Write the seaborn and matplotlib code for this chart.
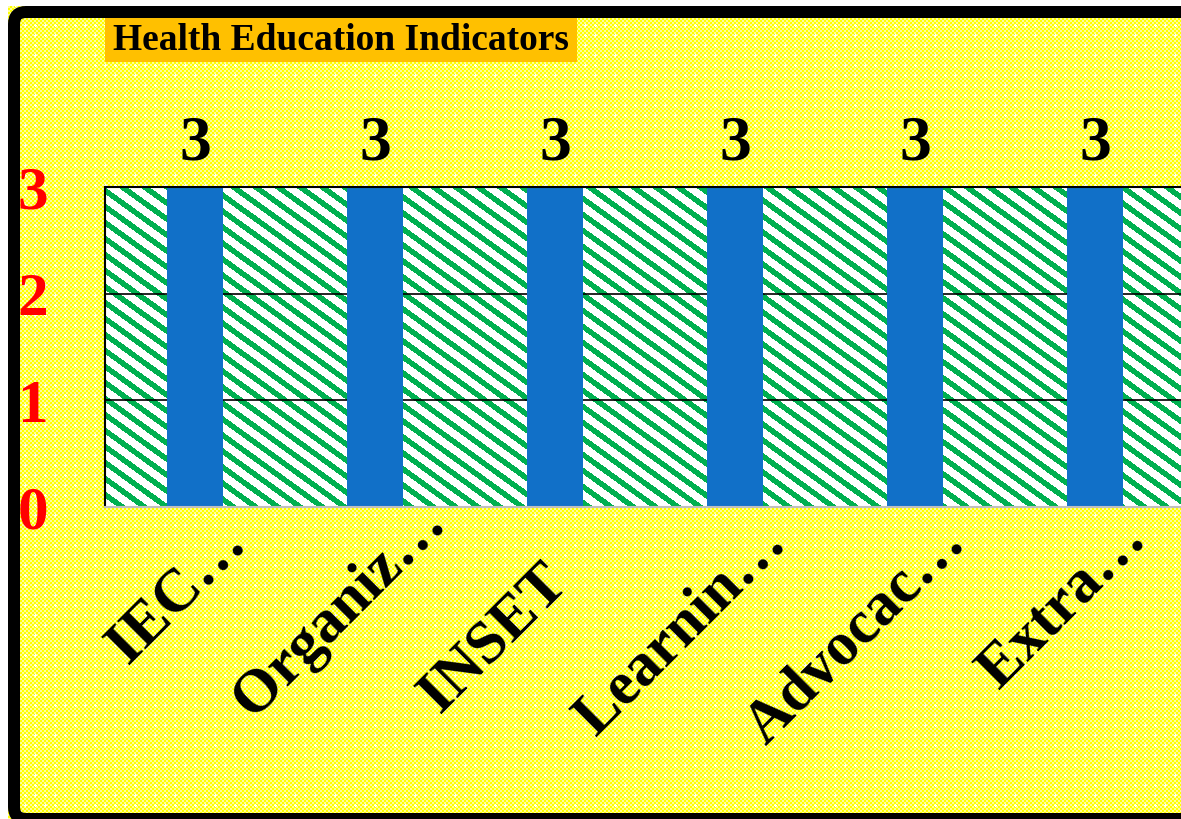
import numpy as np
import matplotlib
matplotlib.use('Agg')
import matplotlib.pyplot as plt
import seaborn as sns
from matplotlib.patches import Rectangle, FancyBboxPatch
from matplotlib.transforms import ScaledTranslation

categories = ['IEC…', 'Organiz…', 'INSET', 'Learnin…', 'Advocac…', 'Extra…']
values = [3, 3, 3, 3, 3, 3]
y_ticks = [0, 1, 2, 3]
title = 'Health Education Indicators'

sns.set_theme(style='white')
plt.rcParams['font.family'] = ['Liberation Serif', 'DejaVu Serif']
plt.rcParams['font.weight'] = 'bold'

W, H = 1181, 819
fig = plt.figure(figsize=(W / 100, H / 100), dpi=100)

# yellow dotted backdrop
yy, xx = np.mgrid[0:H, 0:W]
bg = np.zeros((H, W, 3))
bg[:] = [1, 1, 0]
checker = ((xx // 2 + yy // 2) % 2).astype(bool)
bg[checker] = [1, 1, 0.6]
cross = ((xx % 10 == 5) & (np.abs(yy % 10 - 5) <= 1)) | ((yy % 10 == 5) & (np.abs(xx % 10 - 5) <= 1))
bg[cross] = [1, 1, 1]
bg[:, :8] = 1
bg[:6, :] = 1
fig.figimage(bg, 0, 0, zorder=-5)

ax = fig.add_axes([105 / W, 1 - 507 / H, 1080 / W, 320 / H])

# green diagonal stripes in the plot area
sy, sx = np.mgrid[0:320, 0:1080]
stripes = ((sy - 0.72 * sx) % 16) < 6.8
tex = np.ones((320, 1080, 3))
tex[stripes] = [0, 176 / 255, 80 / 255]
ax.imshow(tex, extent=(0, 1, 0, 1), transform=ax.transAxes, aspect='auto',
          interpolation='nearest', zorder=0.2)

sns.barplot(x=categories, y=values, color='#1170C8', saturation=1, width=0.31, ax=ax,
            linewidth=0, zorder=1)
ax.set_xlim(-0.5, 5.5)
ax.set_ylim(0, 3)
ax.set_xlabel('')
ax.set_ylabel('')

ax.set_axisbelow(True)
ax.yaxis.grid(True, color='black', linewidth=1.2)
ax.xaxis.grid(False)
for side in ['left', 'top']:
    ax.spines[side].set_color('black')
    ax.spines[side].set_linewidth(1.5)
ax.spines['bottom'].set_color('#BFBFBF')
ax.spines['bottom'].set_linewidth(1.5)
ax.spines['right'].set_visible(False)

ax.set_yticks(y_ticks)
ax.set_yticklabels([str(v) for v in y_ticks], color='red', fontsize=44, fontweight='bold')
ax.tick_params(axis='y', length=0, pad=41)

ax.set_xticks(range(len(categories)))
ax.set_xticklabels(categories, rotation=45, ha='right', va='center', rotation_mode='anchor',
                   fontsize=44, fontweight='bold', color='black')
ax.tick_params(axis='x', length=0, pad=0)
# small per-label nudges (pixels) to follow the original placement
nudge = [(0, 0), (20, -20), (-38, 40), (0, 0), (0, 0), (0, -4)]
for lbl, (dx, dy) in zip(ax.get_xticklabels(), nudge):
    shift = ScaledTranslation((42 + dx) / 100, (-27 - dy) / 100, fig.dpi_scale_trans)
    lbl.set_transform(lbl.get_transform() + shift)

ax.bar_label(ax.containers[0], labels=[str(v) for v in values], padding=10,
             fontsize=46, fontweight='bold', color='black', annotation_clip=False)

# title box
fig.add_artist(Rectangle((105 / W, 1 - 62 / H), 472 / W, 44 / H, transform=fig.transFigure,
                         facecolor='#FFC000', edgecolor='none', zorder=3))
fig.text(341 / W, 1 - 41 / H, title, ha='center', va='center', fontsize=27,
         fontweight='bold', color='black', zorder=4)

# chart frame
fig.add_artist(FancyBboxPatch((0.14, 0.0), 12.2, 8.07, boxstyle='round,pad=0,rounding_size=0.12',
                              transform=fig.dpi_scale_trans, facecolor='none',
                              edgecolor='black', linewidth=8.64, zorder=10))

fig.savefig('out.png', dpi=100)
